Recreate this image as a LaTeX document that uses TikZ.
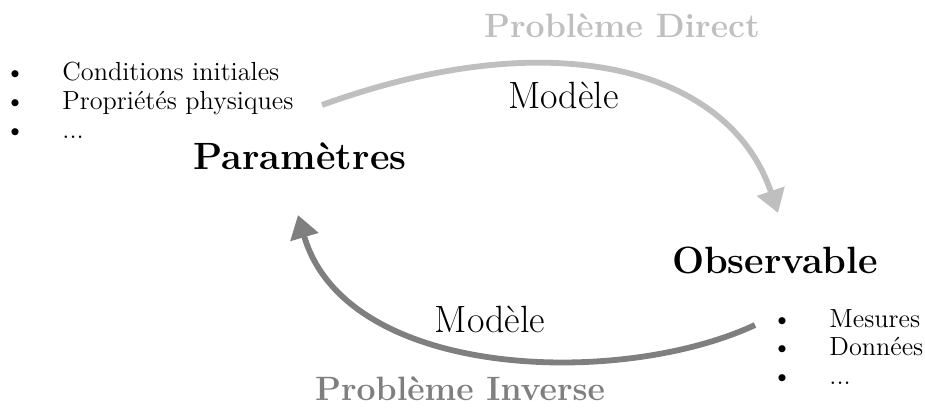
\documentclass[tikz,border=0pt]{standalone}
\usepackage{fontspec}
\usetikzlibrary{arrows.meta}
\definecolor{lightarc}{RGB}{191,191,191}
\definecolor{darkarc}{RGB}{127,127,127}
\tikzset{
  biglabel/.style={anchor=base, inner sep=0pt, font=\fontsize{19}{22}\selectfont\bfseries},
  modlabel/.style={anchor=base, inner sep=0pt, font=\fontsize{19}{22}\selectfont},
  problabel/.style={anchor=base, inner sep=0pt, font=\fontsize{16.9}{20}\selectfont\bfseries},
  itemtext/.style={anchor=base west, inner sep=0pt, font=\fontsize{13.1}{15}\selectfont},
  itembullet/.style={anchor=base, inner sep=0pt, font=\fontsize{13.1}{15}\selectfont},
  arc/.style={line width=2.9pt, -{Triangle[length=11.5pt,width=14pt]}}
}
\begin{document}
\begin{tikzpicture}[x=0.5pt,y=-0.5pt]
\useasboundingbox (0,0) rectangle (925,412);
% titles
\node[problabel, text=lightarc] (pd) at (622,37) {Problème Direct};
\node[problabel, text=darkarc] (pi) at (460,400) {Problème Inverse};
\node[modlabel] (m1) at (563.5,108) {Modèle};
\node[modlabel] (m2) at (490,332) {Modèle};
\node[biglabel] (par) at (300,169) {Paramètres};
\node[biglabel] (obs) at (775,273) {Observable};
% left list
\node[itembullet] (lb1) at (15,80) {\textbullet};
\node[itembullet] (lb2) at (15,109) {\textbullet};
\node[itembullet] (lb3) at (15,138) {\textbullet};
\node[itemtext] (lt1) at (62,80) {Conditions initiales};
\node[itemtext] (lt2) at (62,109) {Propriétés physiques};
\node[itemtext] (lt3) at (62,138) {...};
% right list
\node[itembullet] (rb1) at (782,327) {\textbullet};
\node[itembullet] (rb2) at (782,355) {\textbullet};
\node[itembullet] (rb3) at (782,384) {\textbullet};
\node[itemtext] (rt1) at (829,327) {Mesures};
\node[itemtext] (rt2) at (829,355) {Données};
\node[itemtext] (rt3) at (829,384) {...};
% arcs
\coordinate (ds) at (322,105);
\coordinate (de) at (778,213);
\coordinate (is) at (755,325);
\coordinate (ie) at (298,215);
\draw[arc, lightarc] (ds) .. controls (557,20) and (730,70) .. (de);
\draw[arc, darkarc] (is) .. controls (620,388) and (346,380) .. (ie);
\end{tikzpicture}
\end{document}
